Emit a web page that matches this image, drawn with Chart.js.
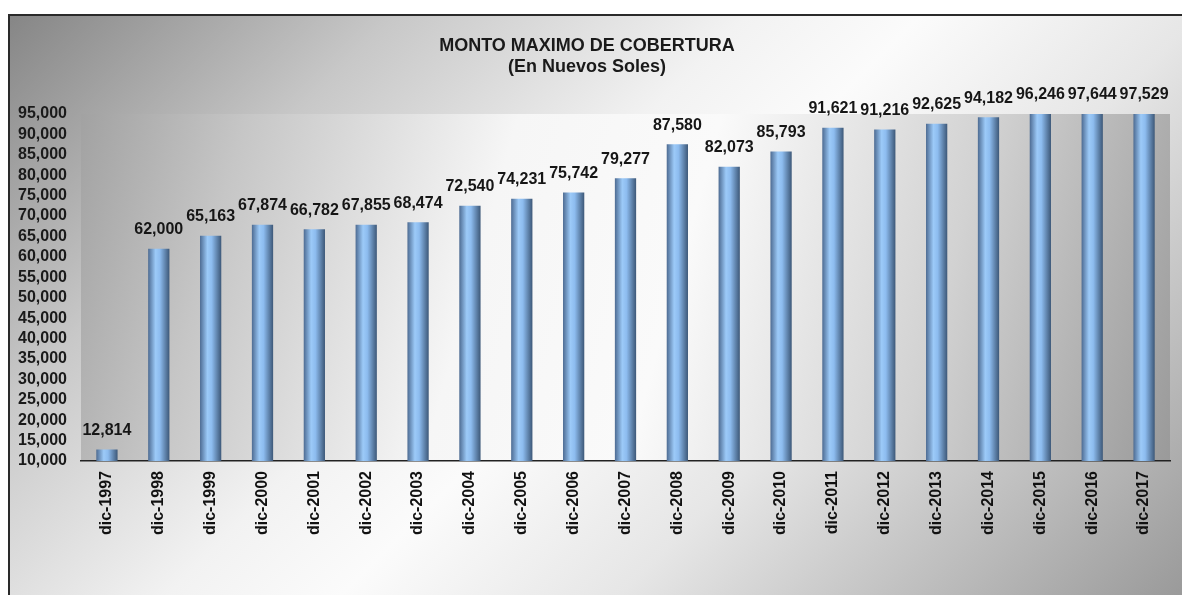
<!DOCTYPE html>
<html>
<head>
<meta charset="utf-8">
<script src="https://cdn.jsdelivr.net/npm/chart.js@4/dist/chart.umd.min.js"></script>
<style>
  html, body { margin: 0; padding: 0; background: #fff; }
  #frame {
    position: absolute; left: 8px; top: 14px; width: 1174px; height: 581px;
    box-sizing: border-box; border-left: 2px solid #2a2a2a; border-top: 2px solid #2a2a2a;
    background: linear-gradient(135deg, #868686 0%, #c8c8c8 22%, #f2f2f2 42%, #fbfbfb 52%, #e6e6e6 68%, #9a9a9a 100%);
  }
  #box { position: absolute; left: 0; top: 0; width: 1172px; height: 579px; }
</style>
</head>
<body>
<div id="frame"><div id="box"><canvas id="myChart"></canvas></div></div>
<script>
// data
let years = ['dic-1997','dic-1998','dic-1999','dic-2000','dic-2001','dic-2002','dic-2003',
  'dic-2004','dic-2005','dic-2006','dic-2007','dic-2008','dic-2009','dic-2010',
  'dic-2011','dic-2012','dic-2013','dic-2014','dic-2015','dic-2016','dic-2017'];
let montos = [12814, 62000, 65163, 67874, 66782, 67855, 68474,
  72540, 74231, 75742, 79277, 87580, 82073, 85793,
  91621, 91216, 92625, 94182, 96246, 97644, 97529];
let titleLines = ['MONTO MAXIMO DE COBERTURA', '(En Nuevos Soles)'];
let yMin = 10000, yMax = 95000, yStep = 5000;

let fontFam = '"Liberation Sans", Arial, sans-serif';
let barPct = 0.41;

// gradient for each bar, like a cylinder
function barColor(context) {
  let chart = context.chart;
  let x = chart.scales.x;
  if (!x || !chart.chartArea) return '#8fb8e6';
  let cx = x.getPixelForValue(context.dataIndex);
  let w = x.width / years.length * barPct;
  let g = chart.ctx.createLinearGradient(cx - w / 2, 0, cx + w / 2, 0);
  g.addColorStop(0, '#4d6b92');
  g.addColorStop(0.35, '#9ccaf8');
  g.addColorStop(0.55, '#8dbcef');
  g.addColorStop(1, '#3d5878');
  return g;
}

let plotBg = {
  id: 'plotBg',
  beforeDraw(chart) {
    let {ctx, chartArea: a} = chart;
    let w = a.right - a.left, h = a.bottom - a.top;
    // diagonal gradient: dark top-left and bottom-right, light middle
    let g = ctx.createLinearGradient(a.left - h / 2, a.top, a.right, a.bottom);
    g.addColorStop(0, '#7c7c7c');
    g.addColorStop(0.25, '#c6c6c6');
    g.addColorStop(0.45, '#f6f6f6');
    g.addColorStop(0.6, '#fafafa');
    g.addColorStop(0.8, '#d2d2d2');
    g.addColorStop(1, '#9a9a9a');
    ctx.save();
    ctx.fillStyle = g;
    ctx.fillRect(a.left, a.top, w, h);
    ctx.restore();
  }
};

let titleDraw = {
  id: 'titleDraw',
  afterDraw(chart) {
    let ctx = chart.ctx;
    ctx.save();
    ctx.fillStyle = '#1a1a1a';
    ctx.font = 'bold 18px ' + fontFam;
    ctx.textAlign = 'center';
    ctx.textBaseline = 'middle';
    ctx.fillText(titleLines[0], 577, 30);
    ctx.fillText(titleLines[1], 577, 51);
    ctx.restore();
  }
};

let valueLabels = {
  id: 'valueLabels',
  afterDatasetsDraw(chart) {
    let ctx = chart.ctx;
    let meta = chart.getDatasetMeta(0);
    ctx.save();
    ctx.fillStyle = '#161616';
    ctx.font = 'bold 16px ' + fontFam;
    ctx.textAlign = 'center';
    ctx.textBaseline = 'middle';
    meta.data.forEach((bar, i) => {
      let y = Math.max(bar.y, chart.chartArea.top) - 19;
      ctx.fillText(montos[i].toLocaleString('en-US'), bar.x, y);
    });
    ctx.restore();
  }
};

let myChart = new Chart(document.getElementById('myChart').getContext('2d'), {
  type: 'bar',
  data: {
    labels: years,
    datasets: [{
      data: montos,
      backgroundColor: barColor,
      borderWidth: 0,
      barPercentage: barPct,
      categoryPercentage: 1
    }]
  },
  options: {
    responsive: true,
    maintainAspectRatio: false,
    animation: false,
    layout: { padding: { top: 98, right: 12, left: 0, bottom: 0 } },
    plugins: {
      legend: { display: false },
      title: { display: false },
      tooltip: { enabled: false }
    },
    scales: {
      x: {
        grid: { display: false, drawTicks: false },
        border: { display: true, color: '#222', width: 1.5 },
        ticks: {
          color: '#111',
          font: { family: fontFam, size: 16, weight: 'bold' },
          minRotation: 90, maxRotation: 90,
          padding: 10,
          autoSkip: false
        },
        afterFit(scale) { scale.height = 134; }
      },
      y: {
        min: yMin, max: yMax,
        grid: { display: false, drawTicks: false },
        border: { display: false },
        ticks: {
          stepSize: yStep,
          autoSkip: false,
          color: '#1a1a1a',
          font: { family: fontFam, size: 16, weight: 'bold' },
          padding: 14,
          callback: v => v.toLocaleString('en-US')
        },
        afterFit(scale) { scale.width = 71; }
      }
    }
  },
  plugins: [plotBg, valueLabels, titleDraw]
});
</script>
</body>
</html>
